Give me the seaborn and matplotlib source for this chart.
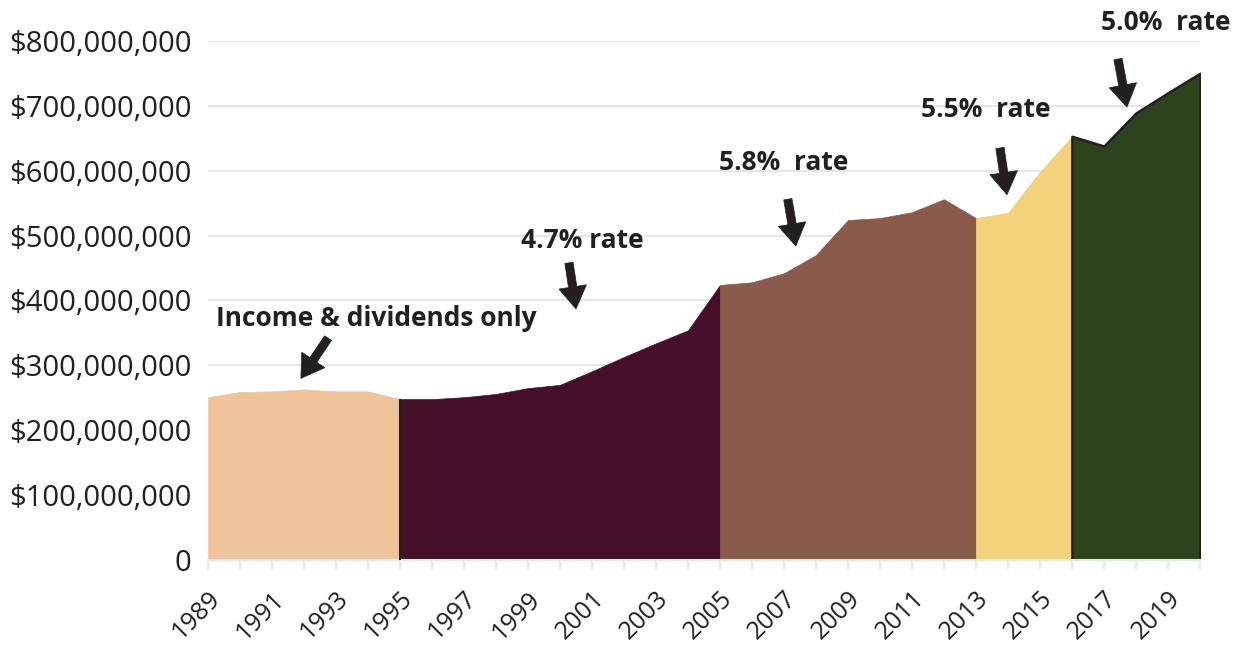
import numpy as np
import pandas as pd
import seaborn as sns
import matplotlib.pyplot as plt
from matplotlib.ticker import FuncFormatter, MultipleLocator

# data (fund value, $)
years = list(range(1989, 2021))
values = [251e6, 259e6, 260e6, 263e6, 260e6, 260e6, 248e6, 248e6, 251e6, 256e6,
          265e6, 270e6, 291e6, 313e6, 334e6, 354e6, 424e6, 428e6, 442e6, 470e6,
          524e6, 527e6, 536e6, 556e6, 527e6, 535e6, 598e6, 653e6, 638e6, 689e6,
          720e6, 750e6]
period_starts = [1989, 1995, 2005, 2013, 2016]
period_ends = [1995, 2005, 2013, 2016, 2020]
period_colors = ['#EFC49A', '#450F2A', '#8A5A4D', '#F2D27A', '#2C431D']
period_labels = ['Income & dividends only', '4.7% rate', '5.8%  rate', '5.5%  rate', '5.0%  rate']

df = pd.DataFrame({'Year': years, 'Value': values})

sns.set_theme(style="white")
plt.rcParams['font.family'] = ['Open Sans', 'DejaVu Sans']

fig, ax = plt.subplots(figsize=(12.46, 6.49), dpi=100)
fig.subplots_adjust(left=0.167, right=0.963, top=0.937, bottom=0.137)

for start, end, color in zip(period_starts, period_ends, period_colors):
    seg = df[(df['Year'] >= start) & (df['Year'] <= end)]
    edge = '#231F20' if color == '#2C431D' else color
    ax.fill_between(seg['Year'], 0, seg['Value'], color=color, edgecolor=edge,
                    linewidth=1.8 if edge == '#231F20' else 0.5, zorder=2)

# divider line at 1995
ax.vlines(1995, 0, df.loc[df['Year'] == 1995, 'Value'].iloc[0], color='#231F20', lw=1.5, zorder=3)

ax.set_xlim(1989, 2020)
ax.set_ylim(0, 800e6)
ax.yaxis.set_major_locator(MultipleLocator(100e6))
ax.yaxis.set_major_formatter(FuncFormatter(lambda v, p: '0' if v == 0 else f'${v:,.0f}'))
ax.set_xticks(range(1989, 2020, 2))
ax.xaxis.set_minor_locator(MultipleLocator(1))
ax.grid(axis='y', color='#E3E8EC', lw=1.5, zorder=0)
ax.tick_params(axis='y', labelsize=21, colors='#231F20', length=0, pad=12)
ax.tick_params(axis='x', which='both', direction='out', length=7, width=1.2,
               color='#E3E8EC', bottom=True, pad=12)
for lbl in ax.get_xticklabels():
    lbl.set_rotation(45)
    lbl.set_ha('right')
    lbl.set_rotation_mode('anchor')
    lbl.set_fontsize(18)
    lbl.set_color('#231F20')
ax.set_xlabel('')
ax.set_ylabel('')
sns.despine(left=True)
ax.spines['bottom'].set_color('#E3E8EC')
ax.spines['bottom'].set_linewidth(1.5)

# annotation placement: text centre, arrow tail, arrow tip (data coords)
text_pos = [(1994.25, 373e6), (2000.69, 492e6), (2007.0, 613e6), (2013.31, 694e6), (2018.94, 829e6)]
arrow_tail = [(1992.75, 342e6), (2000.28, 458e6), (2007.12, 556e6), (2013.75, 635e6), (2017.44, 772e6)]
arrow_tip = [(1991.9, 280e6), (2000.5, 387e6), (2007.37, 484e6), (2013.97, 563e6), (2017.72, 698e6)]

for label, (tx, ty), tail, tip in zip(period_labels, text_pos, arrow_tail, arrow_tip):
    ax.text(tx, ty, label, ha='center', va='center', fontsize=19, fontweight='bold',
            color='#231F20', zorder=5, clip_on=False)
    ax.annotate('', xy=tip, xytext=tail,
                arrowprops=dict(arrowstyle='simple,head_width=2.0,head_length=1.6,tail_width=0.6',
                                mutation_scale=10, fc='#231F20', ec='#231F20', lw=0.5,
                                shrinkA=0, shrinkB=0),
                zorder=5, annotation_clip=False)

plt.savefig('out.png', dpi=100)
